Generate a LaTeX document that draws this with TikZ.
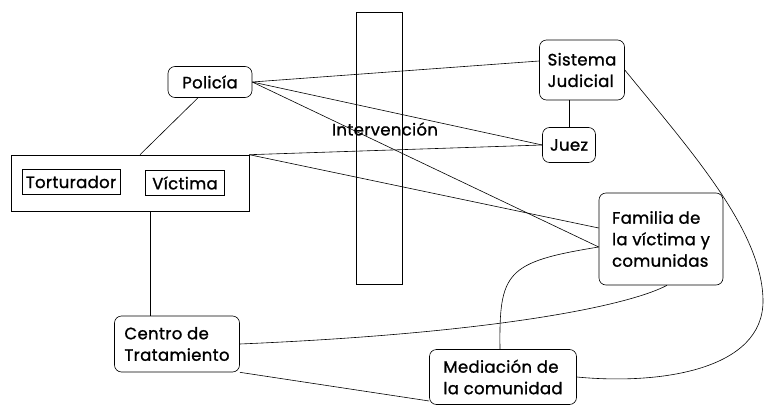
\documentclass[tikz,border=0pt]{standalone}
\usepackage{fontspec}
\setmainfont{Poppins}[FakeBold=1.2,LetterSpace=2]

\begin{document}
\begin{tikzpicture}[x=1pt,y=-1pt,line width=0.6pt,
  caja/.style={draw,rounded corners=7pt,align=left,inner sep=0pt,
    font=\fontsize{16.5}{21.5}\selectfont},
  marco/.style={draw,inner sep=0pt,font=\fontsize{16.5}{21.5}\selectfont}]
\useasboundingbox (0,0) rectangle (764,407);

\node[marco,minimum width=46pt,minimum height=272pt] (interv) at (379,148) {};
\node[font=\fontsize{16.5}{21.5}\selectfont] (intervtxt) at (385,129) {Intervención};

\node[caja,minimum width=84pt,minimum height=31pt] (policia) at (210,82) {Policía};
\node[caja,minimum width=85pt,minimum height=60pt] (sistema) at (582,70) {Sistema\\Judicial};
\node[caja,minimum width=53pt,minimum height=35pt] (juez) at (569,145) {Juez};

\node[marco,minimum width=238pt,minimum height=56pt] (grupo) at (130,183) {};
\node[marco,minimum width=98pt,minimum height=25pt] (torturador) at (71,182) {Torturador};
\node[marco,minimum width=79pt,minimum height=25pt] (victima) at (185,183) {Víctima};

\node[caja,minimum width=125pt,minimum height=56pt] (centro) at (177,344) {Centro de\\Tratamiento};
\node[caja,minimum width=124pt,minimum height=92pt] (familia) at (661,239) {Familia de\\la víctima y\\comunidas};
\node[caja,minimum width=147pt,minimum height=55pt] (mediacion) at (503,377) {Mediación de\\la comunidad};

\draw (policia.east) -- ([yshift=9pt]sistema.west);
\draw (policia.east) -- (juez.west);
\draw (policia.east) -- ([yshift=-8pt]familia.west);
\draw ([xshift=-12pt]policia.south) -- ([xshift=10pt]grupo.north);
\draw (grupo.north east) -- (juez.west);
\draw (grupo.north east) -- ([yshift=11pt]familia.west);
\draw (juez.north) -- (juez.north |- sistema.south);
\draw ([xshift=20pt]grupo.south) -- ([xshift=-27pt]centro.north);
\draw (centro.east) .. controls (500,333) and (630,305) .. ([xshift=6pt]familia.south);
\draw (centro.south east) -- ([yshift=-24pt]mediacion.west);
\draw ([xshift=-3pt]mediacion.north) .. controls (499,272) and (506,262) .. ([yshift=-8pt]familia.west);
\draw (sistema.east) .. controls (690,150) and (762,230) .. (763,300)
  .. controls (764,370) and (660,385) .. (mediacion.east);

\end{tikzpicture}
\end{document}
